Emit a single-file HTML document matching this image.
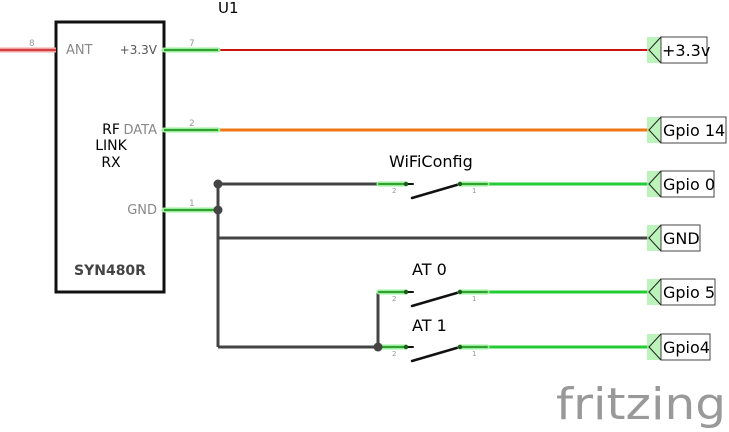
<!DOCTYPE html>
<html><head><meta charset="utf-8"><style>
html,body{margin:0;padding:0;background:#fff;}
svg{display:block;}
</style></head><body>
<svg width="729" height="432" viewBox="0 0 729 432" xmlns="http://www.w3.org/2000/svg" font-family="'DejaVu Sans','Liberation Sans',sans-serif">
<text x="218" y="13" font-size="15" fill="#000">U1</text>
<rect x="56" y="22" width="108" height="270" fill="#fff" stroke="#111" stroke-width="3"/>
<line x1="0" y1="50" x2="56" y2="50" stroke="#f0a0a0" stroke-width="5"/>
<line x1="0" y1="50" x2="56" y2="50" stroke="#d04040" stroke-width="2"/>
<text x="29" y="46" font-size="9" fill="#999">8</text>
<text x="66" y="54" font-size="13" fill="#888">ANT</text>
<text x="157" y="54" font-size="12" fill="#555" text-anchor="end">+3.3V</text>
<text x="157" y="134" font-size="13" fill="#888" text-anchor="end">DATA</text>
<text x="157" y="214" font-size="13" fill="#888" text-anchor="end">GND</text>
<text x="189" y="46" font-size="9" fill="#999">7</text>
<text x="189" y="126" font-size="9" fill="#999">2</text>
<text x="189" y="206" font-size="9" fill="#999">1</text>
<text x="111" y="134" font-size="14" fill="#000" text-anchor="middle">RF</text>
<text x="111" y="150" font-size="14" fill="#000" text-anchor="middle">LINK</text>
<text x="111" y="167" font-size="14" fill="#000" text-anchor="middle">RX</text>
<text x="110" y="275" font-size="14" font-weight="bold" fill="#444" text-anchor="middle">SYN480R</text>

<line x1="218" y1="50" x2="650" y2="50" stroke="#cc1111" stroke-width="2"/>
<line x1="218" y1="130" x2="650" y2="130" stroke="#ee7711" stroke-width="3"/>
<g stroke="#444" stroke-width="3">
<line x1="218" y1="184" x2="218" y2="347"/>
<line x1="218" y1="184" x2="378" y2="184"/>
<line x1="218" y1="238" x2="650" y2="238"/>
<line x1="218" y1="347" x2="378" y2="347"/>
<line x1="378" y1="292" x2="378" y2="347"/>
</g>
<g stroke="#22cc33" stroke-width="3">
<line x1="487" y1="184" x2="650" y2="184"/>
<line x1="487" y1="292" x2="650" y2="292"/>
<line x1="487" y1="347" x2="650" y2="347"/>
</g>

<g stroke="#99ee99" stroke-width="5" stroke-linecap="round">
<line x1="164" y1="50" x2="218" y2="50"/>
<line x1="164" y1="130" x2="218" y2="130"/>
<line x1="164" y1="210" x2="218" y2="210"/>
</g>
<g stroke="#33a033" stroke-width="2">
<line x1="164" y1="50" x2="218" y2="50"/>
<line x1="164" y1="130" x2="218" y2="130"/>
<line x1="164" y1="210" x2="218" y2="210"/>
</g>

<text x="389" y="167" font-size="16" fill="#000">WiFiConfig</text>
<text x="412" y="275" font-size="16" fill="#000">AT 0</text>
<text x="412" y="331" font-size="16" fill="#000">AT 1</text>
<g stroke-linecap="round">
<g>
<line x1="379" y1="184" x2="406" y2="184" stroke="#99ee99" stroke-width="5"/>
<line x1="379" y1="184" x2="406" y2="184" stroke="#33a033" stroke-width="2"/>
<line x1="406" y1="184" x2="413" y2="184" stroke="#111" stroke-width="2"/>
<circle cx="406" cy="184" r="2.2" fill="#1a5a1a"/>
<line x1="412" y1="198" x2="460" y2="184" stroke="#111" stroke-width="2.5"/>
<line x1="460" y1="184" x2="487" y2="184" stroke="#99ee99" stroke-width="5"/>
<line x1="460" y1="184" x2="487" y2="184" stroke="#33a033" stroke-width="2"/>
<circle cx="460" cy="184" r="2.2" fill="#1a5a1a"/>
</g>
<g transform="translate(0,108)">
<line x1="379" y1="184" x2="406" y2="184" stroke="#99ee99" stroke-width="5"/>
<line x1="379" y1="184" x2="406" y2="184" stroke="#33a033" stroke-width="2"/>
<line x1="406" y1="184" x2="413" y2="184" stroke="#111" stroke-width="2"/>
<circle cx="406" cy="184" r="2.2" fill="#1a5a1a"/>
<line x1="412" y1="198" x2="460" y2="184" stroke="#111" stroke-width="2.5"/>
<line x1="460" y1="184" x2="487" y2="184" stroke="#99ee99" stroke-width="5"/>
<line x1="460" y1="184" x2="487" y2="184" stroke="#33a033" stroke-width="2"/>
<circle cx="460" cy="184" r="2.2" fill="#1a5a1a"/>
</g>
<g transform="translate(0,163)">
<line x1="379" y1="184" x2="406" y2="184" stroke="#99ee99" stroke-width="5"/>
<line x1="379" y1="184" x2="406" y2="184" stroke="#33a033" stroke-width="2"/>
<line x1="406" y1="184" x2="413" y2="184" stroke="#111" stroke-width="2"/>
<circle cx="406" cy="184" r="2.2" fill="#1a5a1a"/>
<line x1="412" y1="198" x2="460" y2="184" stroke="#111" stroke-width="2.5"/>
<line x1="460" y1="184" x2="487" y2="184" stroke="#99ee99" stroke-width="5"/>
<line x1="460" y1="184" x2="487" y2="184" stroke="#33a033" stroke-width="2"/>
<circle cx="460" cy="184" r="2.2" fill="#1a5a1a"/>
</g>
</g>
<g font-size="7" fill="#999">
<text x="392" y="193">2</text><text x="472" y="193">1</text>
<text x="392" y="301">2</text><text x="472" y="301">1</text>
<text x="392" y="356">2</text><text x="472" y="356">1</text>
</g>

<circle cx="218" cy="184" r="4.5" fill="#444"/>
<circle cx="218" cy="210" r="4.5" fill="#444"/>
<circle cx="378" cy="347" r="4.5" fill="#444"/>

<g font-size="16" fill="#000">
<g transform="translate(0,50)">
<rect x="647" y="-13" width="14" height="26" fill="#aaf0aa" opacity="0.8"/>
<rect x="661" y="-13" width="46" height="26" fill="#fff" stroke="#444"/>
<polyline points="661,-13 649,0 661,13" fill="none" stroke="#222" stroke-width="1"/>
<text x="662" y="6">+3.3v</text>
</g>
<g transform="translate(0,130)">
<rect x="647" y="-13" width="14" height="26" fill="#aaf0aa" opacity="0.8"/>
<rect x="661" y="-13" width="65" height="26" fill="#fff" stroke="#444"/>
<polyline points="661,-13 649,0 661,13" fill="none" stroke="#222" stroke-width="1"/>
<text x="663" y="6">Gpio 14</text>
</g>
<g transform="translate(0,184)">
<rect x="647" y="-13" width="14" height="26" fill="#aaf0aa" opacity="0.8"/>
<rect x="661" y="-13" width="53" height="26" fill="#fff" stroke="#444"/>
<polyline points="661,-13 649,0 661,13" fill="none" stroke="#222" stroke-width="1"/>
<text x="663" y="6">Gpio 0</text>
</g>
<g transform="translate(0,238)">
<rect x="647" y="-13" width="14" height="26" fill="#aaf0aa" opacity="0.8"/>
<rect x="661" y="-13" width="39" height="26" fill="#fff" stroke="#444"/>
<polyline points="661,-13 649,0 661,13" fill="none" stroke="#222" stroke-width="1"/>
<text x="663" y="6">GND</text>
</g>
<g transform="translate(0,292)">
<rect x="647" y="-13" width="14" height="26" fill="#aaf0aa" opacity="0.8"/>
<rect x="661" y="-13" width="54" height="26" fill="#fff" stroke="#444"/>
<polyline points="661,-13 649,0 661,13" fill="none" stroke="#222" stroke-width="1"/>
<text x="663" y="6">Gpio 5</text>
</g>
<g transform="translate(0,347)">
<rect x="647" y="-13" width="14" height="26" fill="#aaf0aa" opacity="0.8"/>
<rect x="661" y="-13" width="49" height="26" fill="#fff" stroke="#444"/>
<polyline points="661,-13 649,0 661,13" fill="none" stroke="#222" stroke-width="1"/>
<text x="663" y="6">Gpio4</text>
</g>
</g>

<text x="556" y="419" font-size="44" fill="#999" font-family="'DejaVu Sans','Liberation Sans',sans-serif" textLength="170" lengthAdjust="spacingAndGlyphs">fritzing</text>
</svg>
</body></html>
